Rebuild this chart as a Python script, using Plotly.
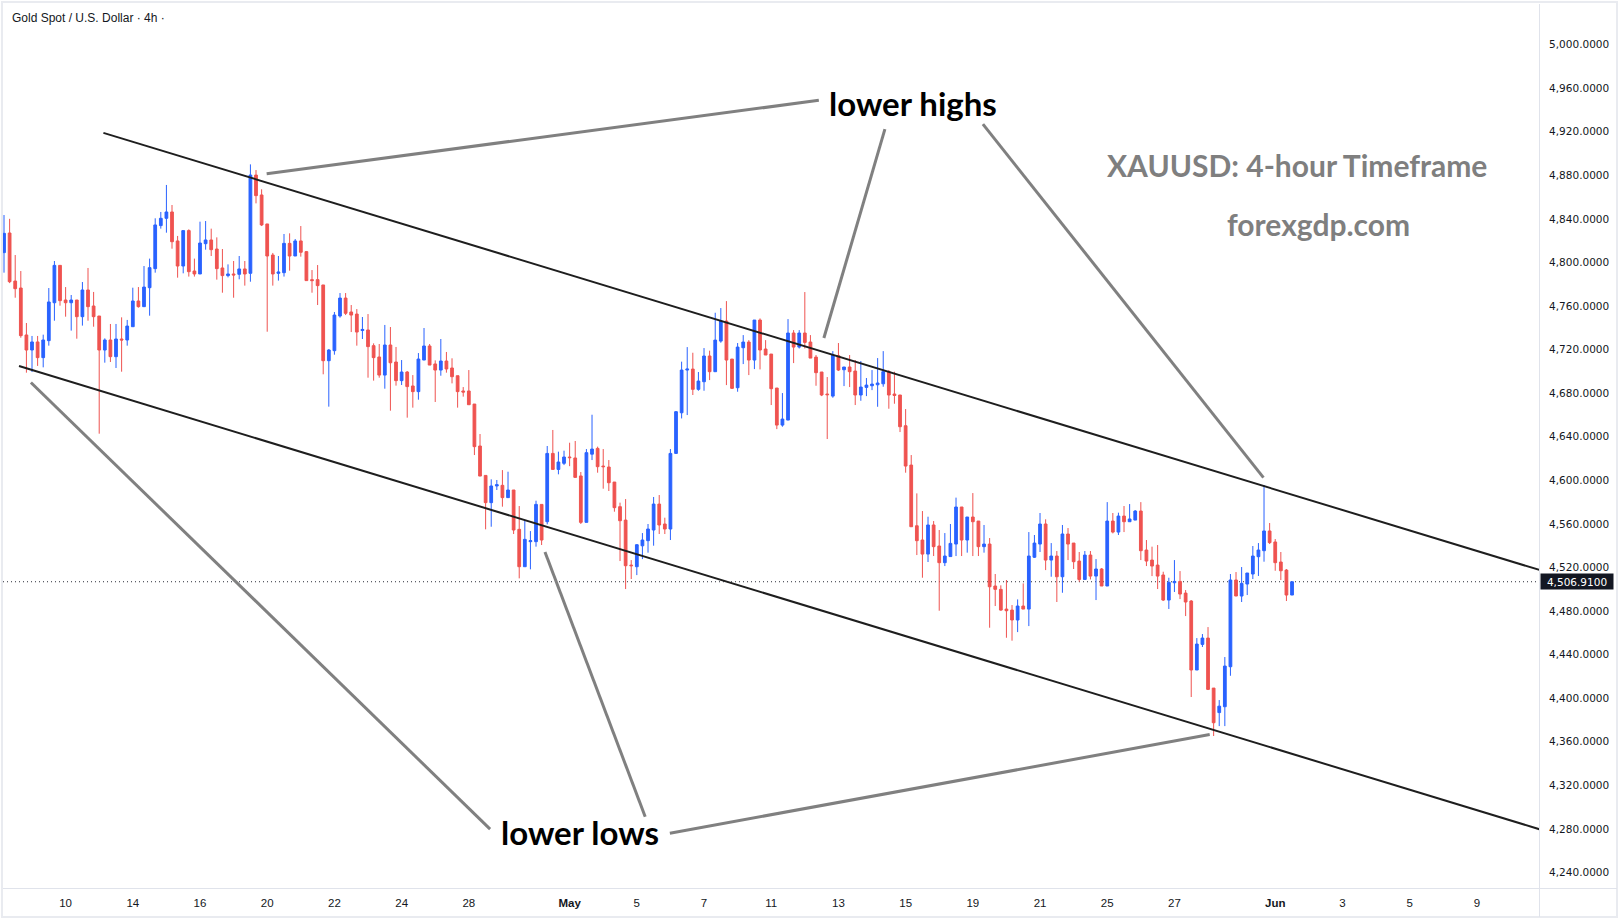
import numpy as np
import plotly.graph_objects as go

# ---------------- data (XAUUSD, 4h bars) ----------------
opens = [4809.0, 4827.0, 4782.9, 4776.5, 4733.4, 4719.6, 4727.0, 4712.6, 4728.2, 4763.0,
         4797.3, 4765.5, 4763.0, 4765.5, 4750.2, 4774.7, 4760.0, 4750.8, 4719.6, 4728.8,
         4713.5, 4729.7, 4728.8, 4741.0, 4764.6, 4759.4, 4776.8, 4794.3, 4833.8, 4840.5,
         4846.3, 4819.7, 4796.7, 4829.2, 4792.1, 4789.4, 4817.2, 4820.6, 4812.3, 4794.9,
         4787.9, 4789.4, 4789.1, 4794.0, 4790.0, 4880.2, 4861.9, 4835.3, 4806.8, 4790.0,
         4790.6, 4817.5, 4805.9, 4819.7, 4809.9, 4784.2, 4784.2, 4779.3, 4709.8, 4719.0,
         4750.8, 4767.3, 4754.5, 4752.6, 4737.5, 4738.0, 4723.6, 4713.2, 4696.6, 4724.2,
         4708.6, 4691.5, 4699.4, 4686.6, 4681.4, 4710.4, 4723.3, 4706.8, 4701.2, 4709.5,
         4703.1, 4696.0, 4682.0, 4682.0, 4670.0, 4631.5, 4604.5, 4579.5, 4594.8, 4595.4,
         4584.1, 4591.1, 4555.0, 4520.7, 4543.7, 4543.7, 4577.9, 4562.0, 4624.7, 4610.0,
         4615.6, 4621.4, 4620.5, 4604.0, 4561.4, 4624.0, 4629.3, 4613.1, 4612.2, 4598.4,
         4575.8, 4563.5, 4522.2, 4520.7, 4539.9, 4544.6, 4554.4, 4578.2, 4559.9, 4555.3,
         4624.7, 4662.0, 4701.2, 4702.1, 4683.5, 4690.5, 4714.1, 4699.7, 4727.8, 4746.2,
         4711.3, 4685.0, 4721.7, 4726.9, 4710.4, 4747.1, 4720.5, 4715.9, 4684.7, 4650.7,
         4655.3, 4735.2, 4722.3, 4735.2, 4726.9, 4713.1, 4699.4, 4679.2, 4677.3, 4714.4,
         4701.5, 4704.0, 4700.3, 4678.3, 4685.3, 4686.8, 4687.7, 4688.6, 4699.7, 4679.2,
         4678.3, 4650.1, 4614.0, 4558.3, 4545.2, 4532.3, 4559.0, 4539.7, 4524.4, 4530.0,
         4541.5, 4575.5, 4545.2, 4566.3, 4562.6, 4539.1, 4541.5, 4503.0, 4499.9, 4481.8,
         4480.9, 4471.8, 4484.6, 4481.8, 4529.4, 4541.5, 4559.9, 4526.8, 4530.5, 4511.5,
         4550.7, 4542.4, 4525.9, 4509.0, 4531.4, 4512.1, 4518.6, 4503.0, 4562.6, 4552.5,
         4567.2, 4562.0, 4563.5, 4571.8, 4536.0, 4526.8, 4522.2, 4513.1, 4490.1, 4506.0,
         4507.2, 4496.5, 4489.2, 4425.9, 4449.4, 4455.2, 4409.3, 4386.8, 4392.2, 4428.9,
         4508.5, 4493.8, 4504.8, 4514.0, 4529.9, 4535.4, 4553.5, 4543.4, 4525.0, 4517.6,
         4494.7]
highs = [4843.5, 4840.0, 4806.8, 4792.1, 4744.4, 4732.5, 4732.5, 4733.7, 4776.5, 4801.3,
         4797.3, 4777.4, 4770.1, 4765.5, 4782.0, 4794.9, 4772.9, 4750.8, 4730.3, 4743.5,
         4743.5, 4749.6, 4747.2, 4776.8, 4777.4, 4796.7, 4803.5, 4840.5, 4846.3, 4871.1,
         4852.7, 4824.3, 4829.2, 4830.4, 4803.5, 4837.4, 4838.0, 4831.0, 4823.0, 4812.3,
         4798.2, 4801.3, 4805.9, 4801.3, 4890.0, 4884.8, 4867.1, 4835.3, 4808.7, 4805.9,
         4826.1, 4826.7, 4821.5, 4833.4, 4810.5, 4793.0, 4797.6, 4779.3, 4720.5, 4754.5,
         4771.9, 4771.9, 4760.9, 4757.2, 4749.9, 4752.6, 4725.7, 4725.1, 4742.6, 4740.7,
         4722.4, 4710.4, 4700.3, 4696.6, 4716.8, 4739.8, 4725.1, 4710.1, 4729.7, 4717.8,
         4712.0, 4696.0, 4685.6, 4701.2, 4670.0, 4642.5, 4604.5, 4600.9, 4600.3, 4609.4,
         4607.9, 4591.1, 4576.4, 4563.5, 4553.4, 4581.3, 4577.9, 4631.5, 4646.2, 4626.3,
         4627.2, 4634.5, 4636.1, 4607.6, 4628.7, 4660.2, 4630.9, 4628.7, 4618.6, 4598.4,
         4579.5, 4582.8, 4526.8, 4541.5, 4551.6, 4559.9, 4584.7, 4586.5, 4565.7, 4628.7,
         4663.6, 4708.9, 4722.3, 4717.1, 4699.4, 4721.4, 4719.0, 4753.8, 4758.1, 4764.5,
         4711.3, 4726.0, 4733.3, 4728.7, 4747.1, 4748.6, 4728.7, 4715.9, 4684.7, 4680.1,
         4748.0, 4737.9, 4737.9, 4772.8, 4733.3, 4715.0, 4699.4, 4694.8, 4718.6, 4726.0,
         4704.0, 4715.0, 4710.4, 4709.5, 4693.9, 4701.2, 4712.2, 4718.6, 4701.2, 4699.7,
         4678.3, 4665.4, 4623.2, 4588.0, 4571.8, 4566.6, 4562.6, 4554.4, 4551.6, 4559.9,
         4584.1, 4575.5, 4566.3, 4588.3, 4562.6, 4559.0, 4547.0, 4514.0, 4503.6, 4508.5,
         4485.5, 4490.7, 4505.4, 4552.5, 4549.8, 4570.0, 4564.2, 4542.4, 4535.1, 4559.0,
         4556.2, 4542.4, 4534.2, 4535.1, 4535.1, 4527.7, 4519.5, 4580.0, 4570.0, 4570.3,
         4576.4, 4578.2, 4572.7, 4580.0, 4545.2, 4539.1, 4540.6, 4516.1, 4510.6, 4526.8,
         4516.7, 4499.3, 4490.1, 4455.2, 4458.9, 4465.3, 4409.3, 4398.3, 4437.8, 4514.0,
         4515.8, 4520.4, 4514.9, 4539.7, 4542.4, 4595.7, 4560.8, 4546.1, 4534.2, 4518.6,
         4506.91]
lows = [4790.6, 4781.0, 4767.6, 4730.9, 4698.8, 4699.4, 4705.0, 4703.7, 4723.6, 4746.5,
        4760.3, 4750.2, 4737.4, 4730.0, 4742.0, 4746.5, 4741.0, 4642.8, 4708.0, 4708.6,
        4703.1, 4699.7, 4723.6, 4741.0, 4758.5, 4759.4, 4751.1, 4790.6, 4831.0, 4827.3,
        4812.6, 4786.0, 4790.0, 4787.0, 4787.0, 4789.4, 4811.7, 4805.9, 4784.2, 4772.2,
        4786.3, 4767.6, 4784.5, 4778.7, 4782.3, 4854.2, 4833.4, 4736.4, 4778.7, 4783.3,
        4787.0, 4792.4, 4805.9, 4805.3, 4783.3, 4772.2, 4760.9, 4697.3, 4667.6, 4715.3,
        4749.3, 4751.7, 4736.1, 4723.6, 4729.7, 4694.2, 4691.5, 4694.2, 4684.1, 4663.9,
        4686.9, 4687.5, 4657.5, 4666.7, 4674.0, 4710.4, 4705.8, 4671.9, 4696.0, 4698.8,
        4689.0, 4666.7, 4676.8, 4669.4, 4623.2, 4603.9, 4555.0, 4557.4, 4591.1, 4575.8,
        4584.1, 4550.7, 4510.0, 4520.7, 4518.3, 4539.1, 4540.6, 4559.6, 4610.0, 4605.5,
        4614.0, 4613.0, 4602.7, 4559.9, 4561.4, 4618.6, 4607.0, 4592.3, 4590.2, 4571.2,
        4525.9, 4500.2, 4509.4, 4513.0, 4527.7, 4533.6, 4540.0, 4550.7, 4550.7, 4545.2,
        4624.7, 4656.8, 4659.9, 4678.3, 4682.2, 4682.2, 4692.0, 4699.7, 4726.3, 4687.4,
        4683.8, 4681.3, 4706.7, 4696.6, 4702.1, 4701.8, 4715.0, 4669.1, 4647.0, 4649.2,
        4655.3, 4707.6, 4721.0, 4721.0, 4712.2, 4686.8, 4677.3, 4637.9, 4675.8, 4700.3,
        4686.5, 4685.6, 4669.1, 4673.0, 4677.3, 4682.8, 4667.5, 4685.9, 4665.7, 4670.3,
        4644.3, 4607.0, 4557.4, 4531.4, 4510.6, 4525.0, 4530.5, 4480.3, 4521.3, 4530.0,
        4530.5, 4530.5, 4533.6, 4530.5, 4530.5, 4533.6, 4464.7, 4484.6, 4480.3, 4455.5,
        4452.8, 4460.7, 4481.8, 4466.2, 4528.7, 4534.2, 4517.6, 4511.5, 4488.3, 4496.8,
        4526.8, 4518.6, 4506.9, 4509.0, 4509.0, 4490.1, 4503.0, 4503.0, 4551.3, 4549.8,
        4552.5, 4562.0, 4563.5, 4526.8, 4521.3, 4512.1, 4500.2, 4489.2, 4481.9, 4497.5,
        4491.0, 4475.4, 4401.1, 4425.9, 4447.0, 4407.5, 4365.3, 4374.4, 4374.4, 4420.6,
        4493.8, 4488.3, 4494.7, 4509.4, 4512.2, 4525.3, 4541.5, 4517.0, 4508.5, 4489.2,
        4494.7]
closes = [4826.7, 4782.3, 4775.9, 4732.8, 4719.6, 4727.0, 4712.6, 4728.8, 4763.7, 4797.3,
          4764.9, 4763.0, 4765.5, 4750.2, 4774.7, 4759.4, 4750.2, 4719.6, 4728.8, 4713.5,
          4729.7, 4728.8, 4741.6, 4764.6, 4759.4, 4777.4, 4795.2, 4834.4, 4840.5, 4846.3,
          4819.0, 4796.7, 4829.2, 4791.5, 4789.4, 4817.8, 4820.6, 4811.7, 4794.3, 4787.9,
          4789.4, 4788.5, 4794.0, 4789.4, 4880.2, 4861.3, 4834.4, 4805.9, 4789.4, 4791.2,
          4817.5, 4805.9, 4819.7, 4809.3, 4783.3, 4783.3, 4778.7, 4709.8, 4719.6, 4751.7,
          4767.3, 4753.3, 4751.7, 4736.1, 4738.5, 4722.7, 4712.6, 4696.6, 4724.2, 4707.9,
          4691.5, 4699.4, 4686.0, 4681.4, 4711.3, 4723.3, 4705.8, 4701.2, 4709.5, 4702.2,
          4695.1, 4681.4, 4681.0, 4669.4, 4630.9, 4603.9, 4579.5, 4594.8, 4596.0, 4584.1,
          4591.1, 4554.4, 4520.7, 4545.8, 4544.6, 4577.9, 4545.2, 4624.7, 4610.0, 4616.8,
          4621.4, 4620.8, 4602.7, 4561.4, 4625.4, 4628.7, 4612.5, 4612.5, 4597.8, 4574.9,
          4562.9, 4521.6, 4521.6, 4540.9, 4545.2, 4555.3, 4578.2, 4559.0, 4555.3, 4624.7,
          4663.0, 4701.2, 4702.1, 4683.5, 4691.1, 4714.1, 4699.7, 4728.7, 4746.2, 4710.4,
          4684.4, 4722.3, 4726.9, 4710.4, 4747.1, 4719.6, 4715.0, 4684.1, 4650.7, 4656.2,
          4735.2, 4722.3, 4735.2, 4726.6, 4712.2, 4698.8, 4678.3, 4678.6, 4715.0, 4701.2,
          4704.0, 4699.7, 4678.3, 4685.6, 4687.4, 4688.3, 4689.3, 4699.7, 4678.3, 4677.9,
          4649.2, 4613.1, 4557.4, 4544.6, 4532.3, 4559.0, 4539.1, 4524.4, 4530.5, 4542.1,
          4575.5, 4545.2, 4566.3, 4562.0, 4539.1, 4541.5, 4502.3, 4499.9, 4480.9, 4480.3,
          4471.8, 4484.6, 4481.8, 4530.5, 4542.4, 4559.9, 4526.8, 4530.5, 4511.5, 4550.7,
          4541.5, 4525.3, 4509.0, 4531.4, 4512.1, 4518.6, 4503.0, 4562.6, 4552.5, 4567.2,
          4562.0, 4564.5, 4571.8, 4535.4, 4525.9, 4521.3, 4512.1, 4490.1, 4506.3, 4507.2,
          4495.6, 4488.3, 4425.9, 4449.7, 4455.2, 4408.1, 4377.5, 4392.7, 4429.5, 4508.5,
          4493.8, 4505.4, 4514.9, 4530.5, 4536.0, 4553.5, 4542.8, 4524.4, 4517.0, 4494.7,
          4506.91]

last_price = 4506.91

# calendar of the time axis (4h bars, 6 per trading day)
first_day = "2026-04-10"
first_day_bar = 11
bars_per_day = 6
tick_dates = ["2026-04-10", "2026-04-14", "2026-04-16", "2026-04-20", "2026-04-22",
              "2026-04-24", "2026-04-28", "2026-05-01", "2026-05-05", "2026-05-07",
              "2026-05-11", "2026-05-13", "2026-05-15", "2026-05-19", "2026-05-21",
              "2026-05-25", "2026-05-27", "2026-06-01", "2026-06-03", "2026-06-05",
              "2026-06-09"]
tick_labels = ["10", "14", "16", "20", "22", "24", "28", "<b>May</b>", "5", "7", "11",
               "13", "15", "19", "21", "25", "27", "<b>Jun</b>", "3", "5", "9"]

price_ticks = list(range(4240, 5001, 40))

# channel lines (bar index, price)
upper_channel = [(17.75, 4918.9), (274.2, 4517.7)]
lower_channel = [(2.68, 4704.9), (274.2, 4279.7)]

# annotation pointer lines (bar index, price)
highs_pointers = [[(145.5, 4948.8), (46.9, 4881.4)],
                  [(157.3, 4922.3), (146.4, 4730.6)],
                  [(174.8, 4926.9), (224.9, 4602.5)]]
lows_pointers = [[(86.8, 4279.9), (4.8, 4689.8)],
                 [(114.5, 4291.2), (96.6, 4534.2)],
                 [(118.9, 4276.1), (215.3, 4366.6)]]

# ---------------- figure ----------------
BLUE = "#2962ff"
RED = "#ef5350"
TXT = "#131722"
GRIDLINE = "#e0e3eb"

idx = np.arange(len(opens))
tick_idx = [first_day_bar + bars_per_day * int(np.busday_count(first_day, d)) for d in tick_dates]

fig = go.Figure()
fig.add_trace(go.Candlestick(
    x=idx, open=opens, high=highs, low=lows, close=closes,
    increasing=dict(line=dict(color=BLUE, width=1), fillcolor=BLUE),
    decreasing=dict(line=dict(color=RED, width=1), fillcolor=RED),
    whiskerwidth=0, showlegend=False, hoverinfo="skip",
))

W, H = 1621, 922
ML, MR, MT, MB = 3, 82, 4, 34
PW, PH = W - ML - MR, H - MT - MB


def px_x(px):
    return (px - ML) / PW


def px_y(py):
    return (H - MB - py) / PH


shapes = []
# last price dotted line
shapes.append(dict(type="line", xref="paper", yref="y", x0=0, x1=1, y0=last_price, y1=last_price,
                   line=dict(color="#2a2e39", width=1, dash="1px,3px"), layer="below"))
for (a, b) in [upper_channel, lower_channel]:
    shapes.append(dict(type="line", xref="x", yref="y", x0=a[0], y0=a[1], x1=b[0], y1=b[1],
                       line=dict(color="#1e1e1e", width=2)))
for seg in highs_pointers + lows_pointers:
    (a, b) = seg
    shapes.append(dict(type="line", xref="x", yref="y", x0=a[0], y0=a[1], x1=b[0], y1=b[1],
                       line=dict(color="#808080", width=3)))
# frame and separators
shapes.append(dict(type="rect", xref="paper", yref="paper", x0=px_x(2), x1=px_x(1617),
                   y0=px_y(917), y1=px_y(2), line=dict(color="#e9ebf0", width=2)))
shapes.append(dict(type="line", xref="paper", yref="paper", x0=px_x(1539), x1=px_x(1617),
                   y0=px_y(888.5), y1=px_y(888.5), line=dict(color=GRIDLINE, width=1)))
shapes.append(dict(type="line", xref="paper", yref="paper", x0=px_x(1539.5), x1=px_x(1539.5),
                   y0=px_y(888), y1=px_y(917), line=dict(color=GRIDLINE, width=1)))

annotations = [
    dict(text="Gold Spot / U.S. Dollar · 4h ·", xref="paper", yref="paper", x=px_x(10), y=px_y(18),
         xanchor="left", yanchor="middle", showarrow=False,
         font=dict(family="Liberation Sans, Arial", size=12, color=TXT)),
    dict(text="<b>lower highs</b>", xref="x", yref="y", x=162.3, y=4946.5, showarrow=False,
         xanchor="center", yanchor="middle", font=dict(family="Lato", size=33, color="#000000")),
    dict(text="<b>lower lows</b>", xref="x", yref="y", x=102.9, y=4277.3, showarrow=False,
         xanchor="center", yanchor="middle", font=dict(family="Lato", size=33, color="#000000")),
    dict(text="<b>XAUUSD: 4-hour Timeframe</b>", xref="x", yref="y", x=230.8, y=4889.6,
         showarrow=False, xanchor="center", yanchor="middle",
         font=dict(family="Lato", size=30, color="#7f7f7f")),
    dict(text="<b>forexgdp.com</b>", xref="x", yref="y", x=234.8, y=4835.5,
         showarrow=False, xanchor="center", yanchor="middle",
         font=dict(family="Lato", size=30, color="#7f7f7f")),
    dict(text="4,506.9100", xref="paper", yref="y", x=px_x(1540), y=last_price,
         xanchor="left", yanchor="middle", showarrow=False, bgcolor="#131722",
         width=72, height=15, borderpad=0, align="center",
         font=dict(family="DejaVu Sans", size=10.5, color="#ffffff")),
]

fig.update_layout(
    width=W, height=H,
    margin=dict(l=ML, r=MR, t=MT, b=MB, autoexpand=False),
    paper_bgcolor="#ffffff", plot_bgcolor="#ffffff",
    shapes=shapes, annotations=annotations,
    xaxis=dict(range=[-0.18, 274.1], tickvals=tick_idx, ticktext=tick_labels,
               showgrid=False, zeroline=False, showline=True, linecolor=GRIDLINE, linewidth=1,
               ticks="", ticklabelstandoff=4,
               tickfont=dict(family="Liberation Sans Narrow, Liberation Sans", size=11.5, color=TXT),
               rangeslider=dict(visible=False), fixedrange=True),
    yaxis=dict(range=[4225.8, 5037.2], side="right", tickvals=price_ticks,
               ticktext=[f"{v:,.4f}" for v in price_ticks],
               showgrid=False, zeroline=False, showline=True, linecolor=GRIDLINE, linewidth=1,
               ticks="", ticklabelstandoff=7,
               tickfont=dict(family="DejaVu Sans", size=10.5, color=TXT), fixedrange=True),
    hovermode=False,
)

fig.write_html("out.html")
